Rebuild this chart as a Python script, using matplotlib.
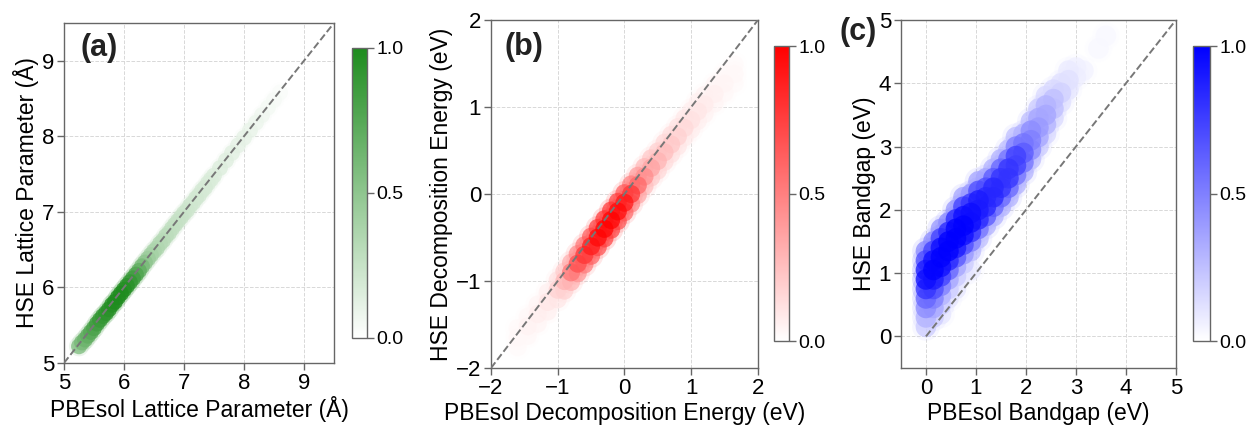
import matplotlib
matplotlib.use('Agg')
import matplotlib.pyplot as plt
import numpy as np
from matplotlib.colors import LinearSegmentedColormap

plt.rcParams['font.family'] = ['Liberation Sans', 'DejaVu Sans']

# ---- panel (a): lattice parameter (x, y, normalised density) ----
xa = [5.25, 5.3, 5.35, 5.4, 5.45, 5.5, 5.55, 5.6, 5.65, 5.7, 5.75, 5.8, 5.85,
      5.9, 5.95, 6.0, 6.05, 6.1, 6.15, 6.2, 6.25, 6.3, 6.35, 6.4, 6.45, 6.5,
      6.55, 6.6, 6.65, 6.7, 6.75, 6.8, 6.85, 6.9, 6.95, 7.0, 7.05, 7.1, 7.15,
      7.2, 7.25, 7.3, 7.35, 7.4, 7.45, 7.5, 7.6, 7.7, 7.8, 7.9, 8.0, 8.1, 8.2,
      8.3, 8.4, 8.5, 8.6]
ya = [5.22, 5.27, 5.31, 5.36, 5.41, 5.46, 5.52, 5.57, 5.62, 5.66, 5.71, 5.77,
      5.81, 5.87, 5.92, 5.97, 6.02, 6.07, 6.12, 6.17, 6.22, 6.28, 6.33, 6.38,
      6.43, 6.48, 6.52, 6.58, 6.62, 6.68, 6.72, 6.78, 6.83, 6.88, 6.93, 6.98,
      7.02, 7.08, 7.12, 7.18, 7.22, 7.28, 7.32, 7.38, 7.43, 7.48, 7.58, 7.68,
      7.78, 7.88, 7.98, 8.08, 8.18, 8.28, 8.38, 8.48, 8.58]
da = [0.55, 0.6, 0.65, 0.7, 0.75, 0.8, 0.85, 0.88, 0.9, 0.93, 0.95, 0.97, 1.0,
      1.0, 1.0, 0.97, 0.95, 0.9, 0.85, 0.78, 0.7, 0.6, 0.5, 0.44, 0.4, 0.37,
      0.35, 0.33, 0.31, 0.3, 0.28, 0.27, 0.26, 0.25, 0.24, 0.23, 0.22, 0.21,
      0.2, 0.2, 0.19, 0.18, 0.18, 0.17, 0.16, 0.16, 0.15, 0.14, 0.13, 0.12,
      0.11, 0.1, 0.08, 0.07, 0.05, 0.04, 0.03]

# ---- panel (b): decomposition energy, three rows across the band ----
xb = [-1.6, -1.45, -1.3, -1.15, -1.0, -0.9, -0.8, -0.7, -0.6, -0.5, -0.4,
      -0.3, -0.2, -0.1, 0.0, 0.1, 0.2, 0.3, 0.4, 0.5, 0.6, 0.7, 0.8, 0.9,
      1.0, 1.1, 1.2, 1.35, 1.5, 1.65]
yb_mid = [-1.65, -1.52, -1.38, -1.24, -1.1, -1.0, -0.9, -0.8, -0.7, -0.6,
          -0.5, -0.4, -0.3, -0.2, -0.1, 0.0, 0.1, 0.2, 0.3, 0.38, 0.48, 0.57,
          0.66, 0.76, 0.85, 0.95, 1.03, 1.15, 1.27, 1.38]
yb_low = [-1.76, -1.63, -1.49, -1.35, -1.21, -1.11, -1.01, -0.91, -0.81,
          -0.71, -0.61, -0.51, -0.41, -0.31, -0.21, -0.11, -0.01, 0.09, 0.19,
          0.27, 0.37, 0.46, 0.55, 0.65, 0.74, 0.84, 0.92, 1.04, 1.16, 1.27]
yb_high = [-1.54, -1.41, -1.27, -1.13, -0.99, -0.89, -0.79, -0.69, -0.59,
           -0.49, -0.39, -0.29, -0.19, -0.09, 0.01, 0.11, 0.21, 0.31, 0.41,
           0.49, 0.59, 0.68, 0.77, 0.87, 0.96, 1.06, 1.14, 1.26, 1.38, 1.49]
db_mid = [0.03, 0.05, 0.07, 0.1, 0.18, 0.3, 0.55, 0.7, 0.8, 0.9, 0.97,
          1.0, 1.0, 0.97, 0.92, 0.8, 0.6, 0.45, 0.36, 0.3, 0.26, 0.22, 0.18,
          0.15, 0.12, 0.1, 0.08, 0.06, 0.04, 0.03]
db_low = [0.02, 0.03, 0.04, 0.06, 0.1, 0.18, 0.3, 0.42, 0.52, 0.62, 0.7, 0.75,
          0.75, 0.7, 0.6, 0.48, 0.35, 0.25, 0.2, 0.16, 0.14, 0.12, 0.1, 0.08,
          0.07, 0.06, 0.05, 0.04, 0.03, 0.02]
db_high = [0.02, 0.03, 0.04, 0.06, 0.12, 0.2, 0.32, 0.45, 0.55, 0.65, 0.75,
           0.8, 0.8, 0.75, 0.65, 0.5, 0.38, 0.28, 0.22, 0.18, 0.15, 0.13,
           0.11, 0.09, 0.07, 0.06, 0.05, 0.04, 0.03, 0.02]

# ---- panel (c): bandgap, one column of points per PBEsol value ----
xc_cols = [0.0, 0.15, 0.3, 0.45, 0.6, 0.75, 0.9, 1.05, 1.2, 1.35, 1.5, 1.65,
           1.8, 1.95, 2.1, 2.25, 2.4, 2.55, 2.7, 2.85, 3.0, 3.15, 3.45, 3.6]
yc_cols = [[0.15, 0.3, 0.45, 0.6, 0.75, 0.9, 1.05, 1.2, 1.35],
           [0.3, 0.45, 0.6, 0.75, 0.9, 1.05, 1.2, 1.35, 1.5],
           [0.35, 0.5, 0.65, 0.8, 0.95, 1.1, 1.25, 1.4, 1.55, 1.7],
           [0.6, 0.75, 0.9, 1.05, 1.2, 1.35, 1.5, 1.65, 1.8],
           [0.75, 0.95, 1.1, 1.25, 1.4, 1.55, 1.7, 1.85, 2.0],
           [1.0, 1.15, 1.3, 1.45, 1.6, 1.75, 1.9, 2.05, 2.2],
           [1.05, 1.35, 1.5, 1.65, 1.8, 1.95, 2.1, 2.25],
           [1.55, 1.7, 1.85, 2.0, 2.15, 2.3, 2.45],
           [1.75, 1.9, 2.05, 2.2, 2.35, 2.5],
           [1.9, 2.05, 2.2, 2.35, 2.5, 2.65],
           [2.05, 2.2, 2.35, 2.5, 2.65, 2.8],
           [2.2, 2.35, 2.5, 2.65, 2.8, 2.95],
           [2.4, 2.55, 2.7, 2.85, 3.0, 3.15],
           [2.6, 2.75, 2.9, 3.05, 3.2],
           [2.8, 2.95, 3.1, 3.25, 3.4],
           [3.0, 3.15, 3.3, 3.45, 3.6],
           [3.2, 3.35, 3.5, 3.65, 3.8],
           [3.45, 3.6, 3.75, 3.9],
           [3.7, 3.85, 4.0],
           [3.9, 4.05, 4.2],
           [4.1, 4.25],
           [4.2],
           [4.55],
           [4.75]]
dc_cols = [[0.2, 0.3, 0.45, 0.6, 0.8, 0.95, 0.9, 0.7, 0.45],
           [0.2, 0.35, 0.5, 0.7, 0.9, 1.0, 0.95, 0.75, 0.45],
           [0.1, 0.2, 0.3, 0.5, 0.75, 0.95, 1.0, 0.95, 0.75, 0.4],
           [0.1, 0.2, 0.35, 0.6, 0.85, 1.0, 1.0, 0.85, 0.45],
           [0.1, 0.2, 0.35, 0.65, 0.9, 1.0, 1.0, 0.85, 0.4],
           [0.1, 0.2, 0.4, 0.7, 0.95, 1.0, 0.95, 0.75, 0.35],
           [0.08, 0.25, 0.5, 0.8, 0.95, 0.95, 0.8, 0.4],
           [0.25, 0.55, 0.85, 0.9, 0.9, 0.7, 0.35],
           [0.3, 0.65, 0.85, 0.85, 0.7, 0.35],
           [0.3, 0.6, 0.85, 0.85, 0.65, 0.3],
           [0.3, 0.6, 0.8, 0.8, 0.6, 0.3],
           [0.3, 0.6, 0.8, 0.8, 0.55, 0.25],
           [0.3, 0.55, 0.75, 0.75, 0.5, 0.25],
           [0.3, 0.55, 0.65, 0.55, 0.3],
           [0.25, 0.45, 0.5, 0.45, 0.25],
           [0.2, 0.35, 0.4, 0.35, 0.2],
           [0.15, 0.3, 0.35, 0.3, 0.15],
           [0.15, 0.25, 0.25, 0.15],
           [0.12, 0.18, 0.12],
           [0.1, 0.12, 0.08],
           [0.07, 0.06],
           [0.05],
           [0.03],
           [0.03]]


def white_to(color, name):
    return LinearSegmentedColormap.from_list(name, ['#ffffff', color])


def density_scatter(ax, x, y, d, cmap, size, halo=1.8, halo_alpha=0.2,
                    core_alpha=0.6):
    x = np.asarray(x)
    y = np.asarray(y)
    d = np.asarray(d)
    order = np.argsort(d, kind='stable')
    # soft halo first, then the core, densest points on top
    ax.scatter(x[order], y[order], c=d[order], cmap=cmap, vmin=0, vmax=1,
               s=size * halo, alpha=halo_alpha, edgecolors='none', zorder=2)
    sc = ax.scatter(x[order], y[order], c=d[order], cmap=cmap, vmin=0, vmax=1,
                    s=size, alpha=core_alpha, edgecolors='none', zorder=3)
    return sc


def style_axes(ax, lims, diag, ticks, xlabel, ylabel):
    ax.plot(diag, diag, color='#777777', linestyle='--', linewidth=1.4, zorder=4)
    ax.set_xlim(lims)
    ax.set_ylim(lims)
    ax.set_xticks(ticks)
    ax.set_yticks(ticks)
    ax.grid(True, color='#d8d8d8', linestyle='--', linewidth=0.7, zorder=0)
    ax.set_axisbelow(True)
    for sp in ax.spines.values():
        sp.set_color('#666666')
        sp.set_linewidth(1.0)
    ax.tick_params(labelsize=16, color='#666666', length=5, width=1, pad=2)
    ax.set_xlabel(xlabel, fontsize=16.5, labelpad=2)
    ax.set_ylabel(ylabel, fontsize=16.5, labelpad=2)


def add_cbar(fig, sc, rect):
    cax = fig.add_axes(rect)
    cb = fig.colorbar(sc, cax=cax, ticks=[0.0, 0.5, 1.0])
    cb.ax.set_yticklabels(['0.0', '0.5', '1.0'])
    cb.ax.tick_params(labelsize=14, color='#666666', length=5, width=1, pad=2)
    cb.outline.set_edgecolor('#666666')
    cb.outline.set_linewidth(1.0)
    cb.solids.set_alpha(1)
    return cb


fig = plt.figure(figsize=(12.47, 4.26), dpi=100)

ax_a = fig.add_axes([0.0513, 0.148, 0.2165, 0.798])
ax_b = fig.add_axes([0.3937, 0.136, 0.2141, 0.817])
ax_c = fig.add_axes([0.7225, 0.136, 0.2205, 0.817])

sc_a = density_scatter(ax_a, xa, ya, da, white_to('#1e8c1e', 'wg'), 130,
                       halo=1.6, halo_alpha=0.15, core_alpha=0.8)
style_axes(ax_a, [5, 9.5], [5, 9.5], [5, 6, 7, 8, 9],
           'PBEsol Lattice Parameter (Å)', 'HSE Lattice Parameter (Å)')
ax_a.text(0.06, 0.97, '(a)', transform=ax_a.transAxes, fontsize=22,
          fontweight='bold', va='top', ha='left', color='#222222')
add_cbar(fig, sc_a, [0.2823, 0.2066, 0.012, 0.6808])

xb_all = xb + xb + xb
yb_all = yb_low + yb_mid + yb_high
db_all = db_low + db_mid + db_high
sc_b = density_scatter(ax_b, xb_all, yb_all, db_all, white_to('#ff0000', 'wr'),
                       170, halo=1.8, halo_alpha=0.15, core_alpha=0.7)
style_axes(ax_b, [-2, 2], [-2, 2], [-2, -1, 0, 1, 2],
           'PBEsol Decomposition Energy (eV)', 'HSE Decomposition Energy (eV)')
ax_b.text(0.05, 0.965, '(b)', transform=ax_b.transAxes, fontsize=22,
          fontweight='bold', va='top', ha='left', color='#222222')
add_cbar(fig, sc_b, [0.6207, 0.1995, 0.012, 0.6925])

xc, yc, dc = [], [], []
for xv, ys, ds in zip(xc_cols, yc_cols, dc_cols):
    for yv, dv in zip(ys, ds):
        xc.append(xv)
        yc.append(yv)
        dc.append(dv)
sc_c = density_scatter(ax_c, xc, yc, dc, white_to('#0000ff', 'wb'), 220,
                       halo=1.8, halo_alpha=0.15, core_alpha=0.75)
style_axes(ax_c, [-0.5, 5], [0, 5], [0, 1, 2, 3, 4, 5],
           'PBEsol Bandgap (eV)', 'HSE Bandgap (eV)')
ax_c.text(-0.225, 1.01, '(c)', transform=ax_c.transAxes, fontsize=22,
          fontweight='bold', va='top', ha='left', color='#222222')
add_cbar(fig, sc_c, [0.9567, 0.1995, 0.0136, 0.6925])

fig.savefig('out.png', dpi=100)
